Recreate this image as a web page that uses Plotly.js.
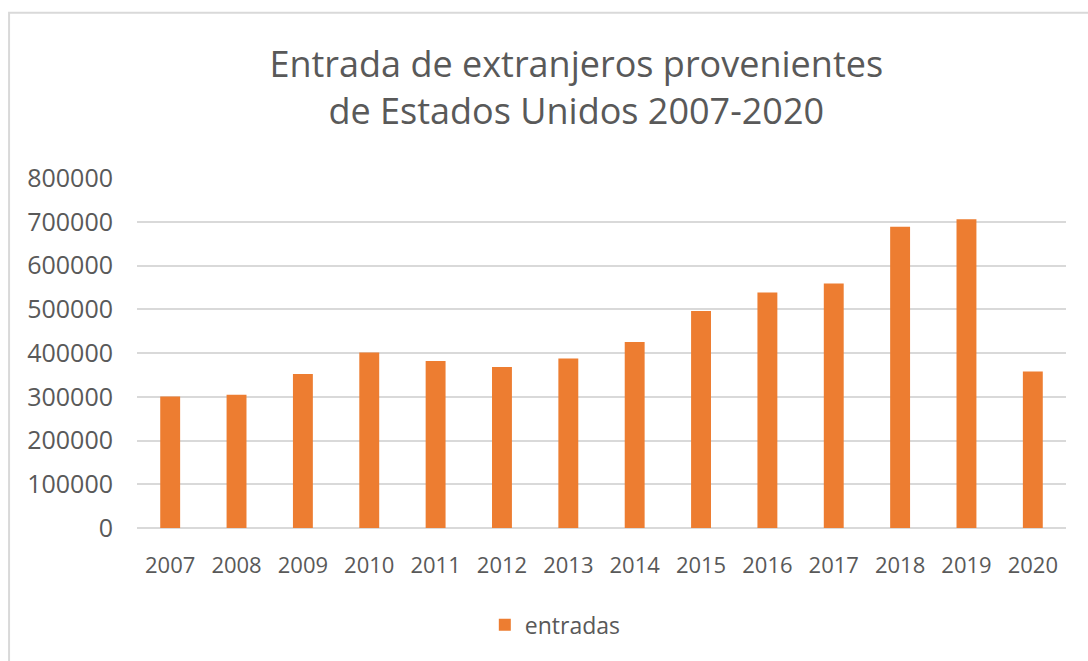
<!DOCTYPE html>
<html>
<head>
<meta charset="utf-8">
<script src="https://cdn.plot.ly/plotly-3.0.1.min.js"></script>
<style>
  html, body { margin: 0; padding: 0; background: #ffffff; }
  #chart { width: 1088px; height: 661px; }
</style>
</head>
<body>
<div id="chart"></div>
<script>
// ---- data ----
const years = ["2007","2008","2009","2010","2011","2012","2013","2014","2015","2016","2017","2018","2019","2020"];
const entradas = [300500, 304500, 352000, 401000, 381500, 368000, 387500, 425000, 496000, 538500, 559000, 688500, 706000, 358000];
const yTicks = [0, 100000, 200000, 300000, 400000, 500000, 600000, 700000, 800000];
const seriesName = "entradas";
const titleText = "Entrada de extranjeros provenientes<br>de Estados Unidos 2007-2020";

// ---- layout geometry (page pixels) ----
const W = 1088, H = 661;
const plotL = 137, plotR = 1066.5, plotT = 178.3, plotB = 528.3;
const px2x = p => (p - plotL) / (plotR - plotL);
const px2y = p => (plotB - p) / (plotB - plotT);

const textColor = "#595959";
const gridColor = "#d9d9d9";
const fontFam = "'Open Sans', 'Noto Sans', sans-serif";

const trace = {
  type: "bar",
  x: years,
  y: entradas,
  name: seriesName,
  marker: { color: "#ED7D31" },
  showlegend: true,
  hoverinfo: "x+y"
};

const layout = {
  width: W, height: H,
  paper_bgcolor: "#ffffff",
  plot_bgcolor: "#ffffff",
  margin: { l: plotL, r: W - plotR, t: plotT, b: H - plotB, pad: 0 },
  font: { family: fontFam, color: textColor },
  title: {
    text: titleText,
    font: { family: fontFam, size: 36, color: textColor },
    xref: "paper", x: px2x(576.5), xanchor: "center",
    yref: "container", y: 1 - 77 / H, yanchor: "top"
  },
  bargap: 0.7,
  xaxis: {
    type: "category",
    showgrid: false,
    showline: false,
    zeroline: false,
    ticks: "outside",
    ticklen: 18,
    tickcolor: "rgba(0,0,0,0)",
    tickfont: { family: fontFam, size: 22, color: textColor },
    fixedrange: true
  },
  yaxis: {
    range: [0, 800000],
    tickvals: yTicks,
    tickformat: "d",
    showgrid: true,
    gridcolor: gridColor,
    gridwidth: 1.5,
    zeroline: true,
    zerolinecolor: gridColor,
    zerolinewidth: 1.5,
    showline: false,
    ticks: "outside",
    ticklen: 18,
    tickcolor: "rgba(0,0,0,0)",
    tickfont: { family: fontFam, size: 25, color: textColor },
    fixedrange: true
  },
  showlegend: true,
  legend: {
    orientation: "h",
    x: px2x(485), xanchor: "left",
    y: px2y(625), yanchor: "middle",
    font: { family: fontFam, size: 23, color: textColor },
    bgcolor: "rgba(0,0,0,0)"
  },
  shapes: [
    {
      type: "rect", xref: "paper", yref: "paper",
      x0: px2x(9), x1: px2x(W + 20),
      y0: px2y(H + 20), y1: px2y(13),
      line: { color: gridColor, width: 2 },
      fillcolor: "rgba(0,0,0,0)",
      layer: "below"
    }
  ]
};

Plotly.newPlot("chart", [trace], layout, { displayModeBar: false, staticPlot: false });
</script>
</body>
</html>
